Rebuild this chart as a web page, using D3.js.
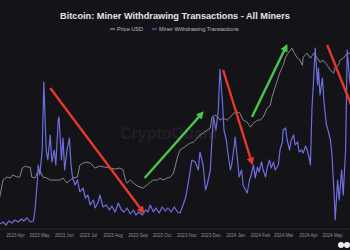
<!DOCTYPE html>
<html lang="en">
<head>
<meta charset="UTF-8">
<title>Bitcoin: Miner Withdrawing Transactions</title>
<style>
    html, body { margin: 0; padding: 0; background: #141318; overflow: hidden; }
    svg { display: block; font-family: "Liberation Sans", Arial, sans-serif; }
</style>
</head>
<body>
<svg id="chart"></svg>
<script src="https://cdnjs.cloudflare.com/ajax/libs/d3/7.9.0/d3.min.js"></script>
<script>
// Miner withdrawing transactions (count)
const minerDates = ["2023-03-13","2023-03-17","2023-03-21","2023-03-24","2023-03-28","2023-04-01","2023-04-05","2023-04-09","2023-04-12","2023-04-16","2023-04-20","2023-04-24","2023-04-26","2023-04-29","2023-04-30","2023-05-02","2023-05-05","2023-05-07","2023-05-10","2023-05-12","2023-05-15","2023-05-17","2023-05-20","2023-05-22","2023-05-25","2023-05-26","2023-05-29","2023-05-31","2023-06-02","2023-06-05","2023-06-08","2023-06-10","2023-06-12","2023-06-15","2023-06-18","2023-06-21","2023-06-25","2023-06-28","2023-07-01","2023-07-04","2023-07-08","2023-07-10","2023-07-14","2023-07-16","2023-07-20","2023-07-24","2023-07-28","2023-07-31","2023-08-04","2023-08-08","2023-08-12","2023-08-15","2023-08-19","2023-08-23","2023-08-27","2023-08-30","2023-09-03","2023-09-07","2023-09-11","2023-09-14","2023-09-17","2023-09-21","2023-09-24","2023-09-28","2023-10-02","2023-10-06","2023-10-09","2023-10-13","2023-10-17","2023-10-21","2023-10-24","2023-10-28","2023-10-31","2023-11-03","2023-11-06","2023-11-08","2023-11-12","2023-11-16","2023-11-18","2023-11-22","2023-11-25","2023-11-27","2023-12-01","2023-12-03","2023-12-05","2023-12-08","2023-12-11","2023-12-13","2023-12-16","2023-12-18","2023-12-21","2023-12-23","2023-12-26","2023-12-28","2023-12-31","2024-01-01","2024-01-04","2024-01-06","2024-01-09","2024-01-11","2024-01-14","2024-01-16","2024-01-19","2024-01-21","2024-01-24","2024-01-26","2024-01-29","2024-01-31","2024-02-03","2024-02-05","2024-02-08","2024-02-10","2024-02-13","2024-02-15","2024-02-18","2024-02-20","2024-02-24","2024-02-26","2024-02-29","2024-03-01","2024-03-04","2024-03-06","2024-03-09","2024-03-11","2024-03-14","2024-03-16","2024-03-19","2024-03-21","2024-03-24","2024-03-26","2024-03-29","2024-03-31","2024-04-03","2024-04-04","2024-04-06","2024-04-08","2024-04-10","2024-04-13","2024-04-14","2024-04-16","2024-04-19","2024-04-21","2024-04-24","2024-04-26","2024-04-29","2024-05-01","2024-05-04","2024-05-05","2024-05-08","2024-05-10","2024-05-13","2024-05-15","2024-05-18","2024-05-20","2024-05-23","2024-05-25"];
const minerValues = [50,70,40,80,60,90,70,100,80,110,70,80,190,490,640,540,790,1470,790,690,940,670,790,640,1090,1120,690,910,590,790,910,640,510,440,490,370,410,310,340,240,290,210,270,340,220,240,190,230,170,260,190,170,210,150,190,140,170,140,190,170,240,170,210,160,220,180,210,170,220,170,160,240,310,440,590,690,670,590,770,640,390,440,590,890,1120,990,1190,1600,1290,990,890,760,590,660,840,920,690,520,590,440,390,360,490,540,640,510,620,570,670,590,520,610,690,610,670,590,640,790,870,990,1010,890,790,890,940,840,870,770,790,760,830,790,690,640,1210,1490,1810,1440,1610,1340,1510,1270,1040,990,890,740,290,90,490,290,590,340,790,1790,1490,1390];

// Price USD
const priceDates = ["2023-03-13","2023-03-17","2023-03-22","2023-03-26","2023-03-29","2023-04-04","2023-04-07","2023-04-10","2023-04-14","2023-04-16","2023-04-20","2023-04-22","2023-04-26","2023-04-29","2023-05-02","2023-05-06","2023-05-11","2023-05-15","2023-05-21","2023-05-27","2023-05-31","2023-06-05","2023-06-09","2023-06-12","2023-06-18","2023-06-21","2023-06-25","2023-06-30","2023-07-04","2023-07-10","2023-07-16","2023-07-22","2023-07-29","2023-08-04","2023-08-10","2023-08-14","2023-08-17","2023-08-19","2023-08-23","2023-08-27","2023-09-01","2023-09-04","2023-09-08","2023-09-13","2023-09-17","2023-09-21","2023-09-26","2023-09-29","2023-10-03","2023-10-08","2023-10-12","2023-10-16","2023-10-21","2023-10-24","2023-10-28","2023-11-02","2023-11-06","2023-11-10","2023-11-15","2023-11-18","2023-11-22","2023-11-27","2023-12-01","2023-12-03","2023-12-07","2023-12-11","2023-12-13","2023-12-17","2023-12-22","2023-12-26","2023-12-30","2024-01-04","2024-01-07","2024-01-11","2024-01-16","2024-01-20","2024-01-24","2024-01-29","2024-02-01","2024-02-05","2024-02-10","2024-02-14","2024-02-16","2024-02-20","2024-02-26","2024-03-01","2024-03-04","2024-03-07","2024-03-10","2024-03-12","2024-03-15","2024-03-19","2024-03-22","2024-03-25","2024-03-26","2024-03-31","2024-04-04","2024-04-08","2024-04-13","2024-04-16","2024-04-20","2024-04-25","2024-04-29","2024-05-03","2024-05-05","2024-05-09","2024-05-11","2024-05-15","2024-05-20","2024-05-25"];
const priceValues = [21400,27300,28350,28000,29040,28350,28350,31460,32150,31800,31800,28350,28000,30080,30770,28350,28000,27300,27300,27300,28000,26270,27300,28000,28350,32500,33190,33540,33190,31460,32150,31800,31460,31110,31460,30770,27300,26270,27300,26270,25230,24890,24540,25580,26620,27300,27300,28000,27300,28000,28350,29730,35270,37690,38380,39420,40110,40460,41840,42880,43570,44610,45300,49110,49800,49110,48070,48760,48070,49110,50490,50840,50490,48070,47380,45650,47030,48070,48070,49110,52220,53260,56030,59490,64680,67100,69870,71250,72290,72980,71250,69520,68830,67100,69870,71250,69520,71250,69520,68140,68830,67100,65370,64330,66400,67100,68830,69520,71250,71250];

// Month labels on the time axis
const monthTicks = ["2023-04-01","2023-05-01","2023-06-01","2023-07-01","2023-08-01","2023-09-01","2023-10-01","2023-11-01","2023-12-01","2024-01-01","2024-02-01","2024-03-01","2024-04-01","2024-05-01"];

// Trend arrows drawn on the chart (start/end on the miner axis)
const arrowColors = ["#e8372b", "#4cc64a", "#e8372b", "#4cc64a", "#e8372b"];
const arrowFrom = [["2023-05-15", 1410], ["2023-09-10", 510], ["2023-12-17", 1590], ["2024-01-22", 1120], ["2024-04-25", 1840]];
const arrowTo = [["2023-09-08", 170], ["2023-11-21", 1160], ["2024-01-22", 660], ["2024-03-05", 1830], ["2024-06-11", 900]];

const width = 350, height = 250;
const svg = d3.select("#chart").attr("width", width).attr("height", height);

svg.append("rect").attr("width", width).attr("height", height).attr("fill", "#141318");

const parse = d3.utcParse("%Y-%m-%d");

const x = d3.scaleUtc()
    .domain([parse("2023-04-01"), parse("2024-05-01")])
    .range([15, 332]);

const yMiner = d3.scaleLinear().domain([0, 1900]).range([229, 39]);
const yPrice = d3.scaleLinear().domain([10000, 80000]).range([230, 28]);

// watermark
svg.append("text")
    .attr("x", 120).attr("y", 139)
    .attr("font-size", 16)
    .attr("font-weight", "bold")
    .attr("fill", "#211f26")
    .text("CryptoQuant");

// x axis
const axis = d3.axisBottom(x)
    .tickValues(monthTicks.map(parse))
    .tickFormat(d3.utcFormat("%Y %b"))
    .tickSize(0)
    .tickPadding(5);

const gx = svg.append("g").attr("transform", "translate(0,229)").call(axis);
gx.select(".domain").attr("stroke", "#2a2a31").attr("d", "M0,0H350");
gx.selectAll("text").attr("fill", "#8e8e94").attr("font-size", 4.6).attr("font-family", "Liberation Sans, Arial, sans-serif");

// price line
const priceData = priceDates.map((d, i) => ({ date: parse(d), value: priceValues[i] }));
svg.append("path")
    .datum(priceData)
    .attr("fill", "none")
    .attr("stroke", "#b4b4b4")
    .attr("stroke-width", 0.7)
    .attr("d", d3.line().x(d => x(d.date)).y(d => yPrice(d.value)));

// miner line
const minerData = minerDates.map((d, i) => ({ date: parse(d), value: minerValues[i] }));
svg.append("path")
    .datum(minerData)
    .attr("fill", "none")
    .attr("stroke", "#6e6ee0")
    .attr("stroke-width", 1.2)
    .attr("stroke-linejoin", "round")
    .attr("d", d3.line().x(d => x(d.date)).y(d => yMiner(d.value)));

// arrow heads
const defs = svg.append("defs");
arrowColors.forEach((c, i) => {
    defs.append("marker")
        .attr("id", "head" + i)
        .attr("viewBox", "0 0 10 10")
        .attr("refX", 7).attr("refY", 5)
        .attr("markerWidth", 3.2).attr("markerHeight", 3.2)
        .attr("orient", "auto")
        .append("path")
        .attr("d", "M0,0L10,5L0,10Z")
        .attr("fill", c);
});

arrowColors.forEach((c, i) => {
    svg.append("line")
        .attr("x1", x(parse(arrowFrom[i][0]))).attr("y1", yMiner(arrowFrom[i][1]))
        .attr("x2", x(parse(arrowTo[i][0]))).attr("y2", yMiner(arrowTo[i][1]))
        .attr("stroke", c)
        .attr("stroke-width", 2.4)
        .attr("marker-end", "url(#head" + i + ")");
});

// title + legend
svg.append("text")
    .attr("x", 175).attr("y", 19)
    .attr("text-anchor", "middle")
    .attr("font-size", 9.2)
    .attr("font-weight", "bold")
    .attr("fill", "#e4e4e4")
    .text("Bitcoin: Miner Withdrawing Transactions - All Miners");

const legend = [["Price USD", "#b4b4b4", 110], ["Miner Withdrawing Transactions", "#6e6ee0", 152]];
legend.forEach(([label, color, lx]) => {
    svg.append("line")
        .attr("x1", lx).attr("x2", lx + 5)
        .attr("y1", 29).attr("y2", 29)
        .attr("stroke", color).attr("stroke-width", 1);
    svg.append("text")
        .attr("x", lx + 7).attr("y", 31)
        .attr("font-size", 5.6)
        .attr("fill", "#bcbcbc")
        .text(label);
});

// small site mark in corner
svg.append("circle").attr("cx", 341).attr("cy", 245).attr("r", 3).attr("fill", "#f0f0f0");
svg.append("circle").attr("cx", 347).attr("cy", 245).attr("r", 3).attr("fill", "#f0f0f0");
</script>
</body>
</html>
